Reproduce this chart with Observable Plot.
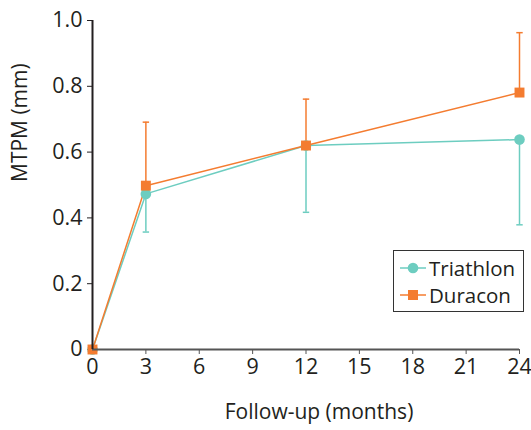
<!DOCTYPE html>
<html><head><meta charset="utf-8">
<script src="https://cdn.jsdelivr.net/npm/d3@7"></script>
<script src="https://cdn.jsdelivr.net/npm/@observablehq/plot@0.6"></script>
<style>
body{margin:0;background:#fff}
#wrap{position:relative;width:531px;height:430px}
#legend{position:absolute;left:393px;top:250px;width:131px;height:62px;box-sizing:border-box;border:1.3px solid #333;background:#fff;font-family:"Open Sans";font-size:20.5px;color:#231f20}
.row{position:absolute;left:0;height:27px;display:flex;align-items:center}
.row svg{margin-left:6px;margin-right:3px}
</style>
</head><body>
<div id="wrap"></div>
<script>
const months = [0, 3, 12, 24];
const xTicks = [0, 3, 6, 9, 12, 15, 18, 21, 24];
const yTicks = [0, 0.2, 0.4, 0.6, 0.8, 1.0];
const seriesNames = ["Triathlon", "Duracon"];
const colors = ["#6dcdc0", "#f47c30"];
const triathlon = [0, 0.473, 0.62, 0.638];
const triathlonLow = [null, 0.357, 0.417, 0.379];
const duracon = [0, 0.498, 0.62, 0.781];
const duraconHigh = [null, 0.691, 0.761, 0.963];
const xTitle = "Follow-up (months)";
const yTitle = "MTPM (mm)";

const tri = months.map((m, i) => ({x: m, y: triathlon[i], e: triathlonLow[i]}));
const dur = months.map((m, i) => ({x: m, y: duracon[i], e: duraconHigh[i]}));
const triE = tri.filter(d => d.e != null);
const durE = dur.filter(d => d.e != null);
const cap = 0.18;

const chart = Plot.plot({
  width: 531, height: 430,
  marginLeft: 92, marginRight: 12, marginTop: 20, marginBottom: 81,
  style: {fontFamily: "Open Sans", fontSize: "20px", color: "#231f20", background: "#fff"},
  x: {domain: [0, 24]},
  y: {domain: [0, 1]},
  marks: [
    Plot.axisX({ticks: xTicks, tickSize: 5, tickPadding: 4, stroke: "#555", fontSize: 21.5, fill: "#231f20", label: null}),
    Plot.axisY({ticks: yTicks, tickSize: 5, tickPadding: 5, fontSize: 21.5, fill: "#231f20", tickFormat: d => d === 0 ? "0" : d.toFixed(1), label: null}),
    Plot.text([xTitle], {frameAnchor: "bottom", dx: 13, dy: 69, fontSize: 21, fill: "#231f20"}),
    Plot.text([yTitle], {frameAnchor: "left", dx: -72, dy: -3, rotate: -90, fontSize: 21, fill: "#231f20"}),
    Plot.ruleX(triE, {x: "x", y1: "y", y2: "e", stroke: colors[0], strokeWidth: 1.5}),
    Plot.link(triE, {x1: d => d.x - cap, x2: d => d.x + cap, y1: "e", y2: "e", stroke: colors[0], strokeWidth: 1.5}),
    Plot.ruleX(durE, {x: "x", y1: "y", y2: "e", stroke: colors[1], strokeWidth: 1.5}),
    Plot.link(durE, {x1: d => d.x - cap, x2: d => d.x + cap, y1: "e", y2: "e", stroke: colors[1], strokeWidth: 1.5}),
    Plot.line(tri, {x: "x", y: "y", stroke: colors[0], strokeWidth: 1.5}),
    Plot.line(dur, {x: "x", y: "y", stroke: colors[1], strokeWidth: 1.5}),
    Plot.dot(tri, {x: "x", y: "y", r: 5.3, fill: colors[0], symbol: "circle"}),
    Plot.dot(dur, {x: "x", y: "y", r: 5.6, fill: colors[1], symbol: "square"}),
    Plot.ruleY([0], {stroke: "#555", strokeWidth: 2}),
    Plot.ruleX([0], {stroke: "#231f20", strokeWidth: 2})
  ]
});
const wrap = document.getElementById("wrap");
wrap.appendChild(chart);

const legend = document.createElement("div");
legend.id = "legend";
seriesNames.forEach((name, i) => {
  const row = document.createElement("div");
  row.className = "row";
  row.style.top = (i === 0 ? 3 : 30) + "px";
  const sym = i === 0
    ? `<circle cx="13" cy="10" r="5.3" fill="${colors[0]}"/>`
    : `<rect x="8" y="5" width="10" height="10" fill="${colors[1]}"/>`;
  row.innerHTML = `<svg width="26" height="20"><line x1="0" x2="26" y1="10" y2="10" stroke="${colors[i]}" stroke-width="1.5"/>${sym}</svg><span>${name}</span>`;
  legend.appendChild(row);
});
wrap.appendChild(legend);
</script>
</body></html>
